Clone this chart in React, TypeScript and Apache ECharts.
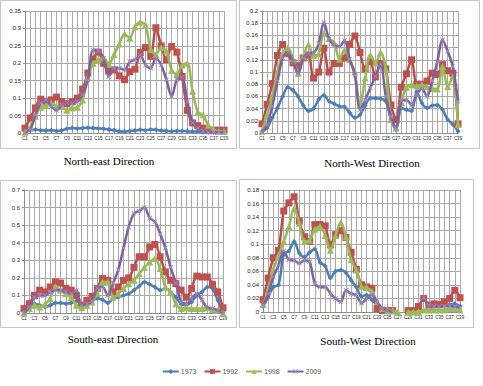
import React, { useEffect, useRef } from "react";
import * as echarts from "echarts";

const categories = [
  "C1","C2","C3","C4","C5","C6","C7","C8","C9","C10",
  "C11","C12","C13","C14","C15","C16","C17","C18","C19","C20",
  "C21","C22","C23","C24","C25","C26","C27","C28","C29","C30",
  "C31","C32","C33","C34","C35","C36","C37","C38","C39",
];
const seriesNames = ["1973", "1992", "1998", "2009"];

// North-east
const ne1973 = [0.005,0.008,0.01,0.008,0.007,0.008,0.006,0.007,0.012,0.014,0.013,0.014,0.015,0.014,0.013,0.012,0.01,0.008,0.005,0.004,0.006,0.007,0.009,0.008,0.01,0.009,0.007,0.006,0.005,0.006,0.006,0.005,0.004,0.004,0.003,0.002,0.002,0.002,0.002];
const ne1992 = [0.014,0.043,0.072,0.097,0.091,0.095,0.103,0.09,0.084,0.09,0.1,0.126,0.172,0.212,0.232,0.2,0.178,0.181,0.164,0.153,0.176,0.183,0.231,0.245,0.22,0.302,0.25,0.21,0.248,0.232,0.162,0.065,0.029,0.021,0.014,0.01,0.008,0.008,0.008];
const ne1998 = [0.002,0.014,0.048,0.074,0.078,0.086,0.078,0.076,0.065,0.072,0.074,0.095,0.16,0.2,0.21,0.215,0.197,0.225,0.255,0.285,0.272,0.305,0.318,0.31,0.24,0.225,0.245,0.235,0.18,0.168,0.195,0.2,0.12,0.06,0.052,0.022,0.01,0.005,0.005];
const ne2009 = [0.002,0.01,0.052,0.086,0.095,0.076,0.065,0.081,0.086,0.084,0.09,0.11,0.153,0.238,0.236,0.215,0.162,0.186,0.186,0.181,0.205,0.21,0.224,0.195,0.186,0.215,0.195,0.153,0.105,0.153,0.16,0.09,0.029,0.014,0.005,0.002,0.002,0.002,0.002];

// North-West
const nw1973 = [0.002,0.008,0.025,0.041,0.06,0.075,0.07,0.06,0.045,0.036,0.04,0.055,0.062,0.052,0.048,0.044,0.043,0.033,0.025,0.03,0.045,0.057,0.057,0.056,0.052,0.022,0.005,0.041,0.038,0.036,0.068,0.049,0.041,0.045,0.046,0.038,0.022,0.014,0.003];
const nw1992 = [0.015,0.047,0.081,0.127,0.145,0.13,0.115,0.11,0.123,0.128,0.09,0.1,0.139,0.1,0.114,0.114,0.123,0.145,0.159,0.132,0.105,0.117,0.092,0.114,0.105,0.046,0.022,0.075,0.097,0.12,0.08,0.08,0.085,0.098,0.096,0.112,0.102,0.098,0.015];
const nw1998 = [0.003,0.03,0.06,0.1,0.13,0.14,0.122,0.098,0.125,0.145,0.127,0.13,0.163,0.155,0.148,0.121,0.136,0.12,0.1,0.045,0.09,0.128,0.115,0.132,0.105,0.022,0.008,0.05,0.075,0.079,0.077,0.079,0.076,0.073,0.072,0.109,0.076,0.093,0.014];
const nw2009 = [0.001,0.014,0.044,0.085,0.123,0.132,0.117,0.097,0.123,0.13,0.131,0.147,0.181,0.154,0.144,0.142,0.152,0.121,0.095,0.038,0.054,0.074,0.093,0.113,0.06,0.027,0.008,0.052,0.054,0.046,0.063,0.073,0.06,0.085,0.117,0.153,0.134,0.109,0.052];

// South-east
const se1973 = [0,0.025,0.053,0.044,0.034,0.044,0.057,0.057,0.053,0.057,0.068,0.05,0.05,0.068,0.082,0.076,0.057,0.082,0.09,0.1,0.11,0.13,0.152,0.177,0.163,0.148,0.13,0.139,0.12,0.09,0.053,0.044,0.063,0.1,0.12,0.148,0.139,0.072,0.005];
const se1992 = [0.025,0.053,0.1,0.13,0.12,0.148,0.177,0.17,0.14,0.13,0.1,0.044,0.072,0.095,0.139,0.196,0.186,0.12,0.148,0.186,0.2,0.26,0.32,0.32,0.376,0.39,0.32,0.234,0.186,0.167,0.13,0.09,0.139,0.21,0.205,0.205,0.163,0.12,0.03];
const se1998 = [0,0.025,0.044,0.034,0.05,0.082,0.148,0.13,0.11,0.09,0.044,0.03,0.044,0.063,0.11,0.177,0.177,0.09,0.11,0.139,0.167,0.186,0.224,0.26,0.29,0.31,0.253,0.148,0.12,0.053,0.025,0.03,0.025,0.025,0.025,0.03,0.02,0.015,0];
const se2009 = [0,0.034,0.09,0.1,0.1,0.12,0.13,0.13,0.12,0.11,0.13,0.045,0.05,0.07,0.14,0.15,0.1,0.17,0.245,0.37,0.49,0.567,0.58,0.6,0.54,0.52,0.45,0.37,0.26,0.17,0.063,0.053,0.082,0.11,0.072,0.03,0.025,0.015,0];

// South-West
const sw1973 = [0.008,0.022,0.037,0.04,0.085,0.09,0.104,0.087,0.081,0.088,0.093,0.073,0.068,0.05,0.06,0.062,0.058,0.047,0.037,0.023,0.025,0.018,0.01,0.003,0,null,null,null,null,null,null,0.02,0.01,0.008,0.009,0.01,0.011,0.012,0.008];
const sw1992 = [0.018,0.05,0.08,0.091,0.149,0.161,0.17,0.134,0.111,0.104,0.129,0.129,0.127,0.099,0.114,0.12,0.11,0.088,0.063,0.04,0.037,0.035,0.005,0.002,0.002,0.002,null,null,0.002,0.002,0.008,0.02,0.01,0.012,0.011,0.015,0.02,0.032,0.021];
const sw1998 = [0.011,0.032,0.063,0.084,0.104,0.126,0.153,0.131,0.104,0.106,0.122,0.126,0.113,0.091,0.113,0.132,0.111,0.077,0.062,0.038,0.036,0.03,0.015,0.005,0.002,0.002,0,null,0,0,0,0.003,0.003,0.003,0.003,0.003,0.005,0.005,0.003];
const sw2009 = [0.01,0.027,0.052,0.069,0.09,0.077,0.076,0.072,0.076,0.074,0.042,0.037,0.037,0.027,0.02,0.015,0.032,0.027,0.025,0.013,0.02,0.025,0.015,0.005,0.002,0,null,null,null,null,null,0.021,0.01,0.008,0.008,0.009,0.009,0.008,0.007];

const panelTitles = ["North-east Direction", "North-West Direction", "South-east Direction", "South-West Direction"];
const panelData = [
  [ne1973, ne1992, ne1998, ne2009],
  [nw1973, nw1992, nw1998, nw2009],
  [se1973, se1992, se1998, se2009],
  [sw1973, sw1992, sw1998, sw2009],
];
const yMax = [0.35, 0.2, 0.7, 0.18];
const yStep = [0.05, 0.02, 0.1, 0.02];

const CROSS = "path://M0,1.2 L1.2,0 L5,3.8 L8.8,0 L10,1.2 L6.2,5 L10,8.8 L8.8,10 L5,6.2 L1.2,10 L0,8.8 L3.8,5 Z";
const styles = [
  { color: "#4a7ebb", mark: "#4a7ebb", symbol: "diamond", size: 5 },
  { color: "#be4b48", mark: "#c0504d", symbol: "rect", size: 7 },
  { color: "#98b954", mark: "#9bbb59", symbol: "triangle", size: 7 },
  { color: "#7d60a0", mark: "#a08bc4", symbol: CROSS, size: 5 },
];

const grids = [
  { left: 25, top: 11, width: 199, height: 122 },
  { left: 262, top: 11, width: 196, height: 122 },
  { left: 24, top: 190, width: 199, height: 123 },
  { left: 263, top: 190, width: 197, height: 122 },
];
const titlePos = [
  { x: 109, y: 155 },
  { x: 372, y: 157 },
  { x: 113, y: 333 },
  { x: 368, y: 335 },
];

export default function App() {
  const ref = useRef<HTMLDivElement>(null);
  useEffect(() => {
    document.body.style.margin = "0";
    if (!ref.current) return;
    const chart = echarts.init(ref.current, undefined, { renderer: "svg" });
    const gridLine = "#a8a8a8";
    const axisColor = "#8c8c8c";
    const series: any[] = [];
    panelData.forEach((arr, p) => {
      arr.forEach((data, s) => {
        const st = styles[s];
        series.push({
          type: "line",
          name: seriesNames[s],
          data,
          xAxisIndex: p,
          yAxisIndex: p,
          smooth: 0.3,
          symbol: st.symbol,
          symbolSize: st.size,
          showAllSymbol: true,
          lineStyle: { width: 2.5, color: st.color },
          itemStyle: { color: st.mark },
          z: 2 + s,
        });
      });
    });
    const option: any = {
      animation: false,
      backgroundColor: "#ffffff",
      textStyle: { fontFamily: "Liberation Sans" },
      title: panelTitles.map((t, i) => ({
        text: t,
        left: titlePos[i].x,
        top: titlePos[i].y,
        textAlign: "center",
        padding: 0,
        textStyle: { fontFamily: "Liberation Serif", fontSize: 11, fontWeight: "normal", color: "#000" },
      })),
      graphic: [
        { type: "rect", silent: true, z: -1, shape: { x: 0.5, y: 0.5, width: 236, height: 148 }, style: { fill: "none", stroke: "#c4c4c4", lineWidth: 1 } },
        { type: "rect", silent: true, z: -1, shape: { x: 239.5, y: 0.5, width: 240, height: 148 }, style: { fill: "none", stroke: "#c4c4c4", lineWidth: 1 } },
        { type: "rect", silent: true, z: -1, shape: { x: 0.5, y: 180.5, width: 236, height: 147 }, style: { fill: "none", stroke: "#c4c4c4", lineWidth: 1 } },
        { type: "rect", silent: true, z: -1, shape: { x: 239.5, y: 179.5, width: 234, height: 148 }, style: { fill: "none", stroke: "#c4c4c4", lineWidth: 1 } },
      ],
      legend: {
        data: seriesNames,
        bottom: 6,
        left: "center",
        itemWidth: 16,
        itemHeight: 6,
        itemGap: 7,
        textStyle: { fontSize: 7, color: "#595959", padding: [0, 0, 0, -3] },
      },
      grid: grids.map((g) => ({ ...g, containLabel: false })),
      xAxis: grids.map((_, i) => ({
        type: "category",
        gridIndex: i,
        data: categories,
        boundaryGap: false,
        axisLine: { lineStyle: { color: axisColor } },
        axisTick: { show: false },
        axisLabel: { interval: 1, fontSize: 4.5, color: "#222", margin: 3 },
        splitLine: { show: true, interval: 0, lineStyle: { color: gridLine, width: 1 } },
      })),
      yAxis: grids.map((_, i) => ({
        type: "value",
        gridIndex: i,
        min: 0,
        max: yMax[i],
        interval: yStep[i],
        axisLine: { show: true, lineStyle: { color: axisColor } },
        axisTick: { show: true, length: 2, lineStyle: { color: axisColor } },
        axisLabel: { fontSize: 6, color: "#222", margin: 4 },
        splitLine: { show: true, lineStyle: { color: gridLine, width: 1 } },
      })),
      series,
    };
    chart.setOption(option);
    return () => chart.dispose();
  }, []);
  return <div ref={ref} style={{ width: 483, height: 386 }} />;
}
